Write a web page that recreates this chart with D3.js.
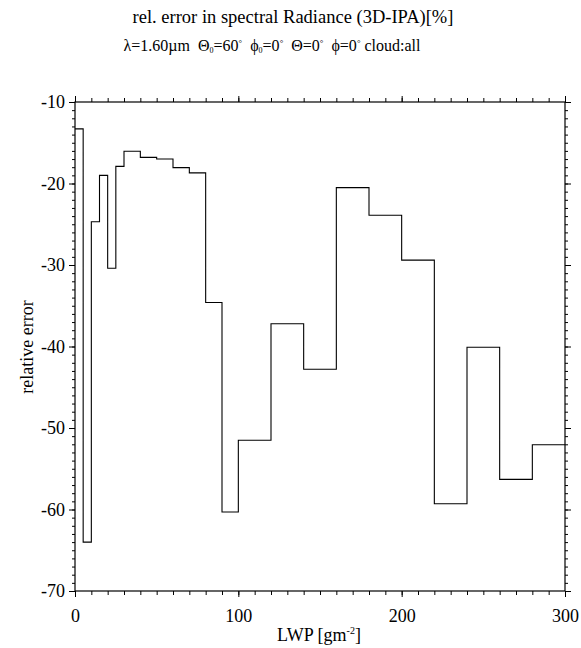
<!DOCTYPE html>
<html lang="en">
<head>
  <meta charset="UTF-8">
  <title>rel. error in spectral Radiance</title>
  <script src="https://d3js.org/d3.v7.min.js"></script>
  <style>
    body {
      margin: 0;
      background: #fff;
      font-family: 'Liberation Serif', 'DejaVu Serif', serif;
    }
    svg text { fill: #000; font-family: 'Liberation Serif', serif; }
    .axis path, .axis line { stroke: #000; stroke-width: 1px; }
    .step { fill: none; stroke: #000; stroke-width: 1.1px; }
  </style>
</head>
<body>
  <svg width="581" height="648"></svg>
  <script>
    // bin edges (LWP, g/m^2) and relative error per bin [%]
    const binEdges = [0, 5, 10, 15, 20, 25, 30, 40, 50, 60, 70, 80, 90, 100, 120, 140, 160, 180, 200, 220, 240, 260, 280, 300];
    const relError = [-13.3, -64.0, -24.7, -19.0, -30.4, -17.9, -16.05, -16.8, -17.0, -18.05, -18.7, -34.6, -60.3, -51.5, -37.2, -42.8, -20.5, -23.9, -29.4, -59.3, -40.1, -56.3, -52.05];
    const xTicks = [0, 100, 200, 300];
    const yTicks = [-10, -20, -30, -40, -50, -60, -70];

    const svg = d3.select("svg");
    const mLeft = 75, mRight = 565, mTop = 102, mBottom = 591;

    const x = d3.scaleLinear().domain([0, 300]).range([mLeft, mRight]);
    const y = d3.scaleLinear().domain([-70, -10]).range([mBottom, mTop]);

    const minorX = d3.range(0, 301, 10);
    const minorY = d3.range(-70, -9, 1);

    // frame
    svg.append("rect")
      .attr("x", mLeft).attr("y", mTop)
      .attr("width", mRight - mLeft).attr("height", mBottom - mTop)
      .attr("fill", "none").attr("stroke", "#000").attr("stroke-width", 1.2);

    function tickAxis(axisFn, scale, tr, vals, size) {
      return svg.append("g")
        .attr("class", "axis")
        .attr("transform", tr)
        .call(axisFn(scale).tickValues(vals).tickSize(size).tickFormat(""))
        .call(g => g.select(".domain").remove());
    }

    // minor ticks on all sides
    tickAxis(d3.axisBottom, x, `translate(0,${mBottom})`, minorX, 4);
    tickAxis(d3.axisTop, x, `translate(0,${mTop})`, minorX, 4);
    tickAxis(d3.axisLeft, y, `translate(${mLeft},0)`, minorY, 3);
    tickAxis(d3.axisRight, y, `translate(${mRight},0)`, minorY, 3);
    // major ticks
    tickAxis(d3.axisTop, x, `translate(0,${mTop})`, xTicks, 6);
    tickAxis(d3.axisRight, y, `translate(${mRight},0)`, yTicks, 6);

    function labelStyle(g) {
      g.select(".domain").remove();
      g.attr("font-family", "Liberation Serif").attr("font-size", 18);
      g.selectAll("text").style("font-family", "'Liberation Serif', serif").style("font-size", "18px");
    }

    svg.append("g")
      .attr("class", "axis")
      .attr("transform", `translate(0,${mBottom})`)
      .call(d3.axisBottom(x).tickValues(xTicks).tickSize(6).tickPadding(12))
      .call(labelStyle);

    svg.append("g")
      .attr("class", "axis")
      .attr("transform", `translate(${mLeft},0)`)
      .call(d3.axisLeft(y).tickValues(yTicks).tickSize(6).tickPadding(4).tickFormat(d => d))
      .call(labelStyle);

    // step line
    const pts = [];
    relError.forEach((v, i) => {
      pts.push([binEdges[i], v]);
      pts.push([binEdges[i + 1], v]);
    });
    svg.append("path")
      .attr("class", "step")
      .attr("d", d3.line().x(d => x(d[0])).y(d => y(d[1]))(pts));

    // titles
    svg.append("text")
      .attr("x", 293).attr("y", 23)
      .attr("text-anchor", "middle")
      .style("font-size", "18.5px")
      .text("rel. error in spectral Radiance (3D-IPA)[%]");

    const sub = svg.append("text")
      .attr("x", 272).attr("y", 51)
      .attr("text-anchor", "middle")
      .attr("xml:space", "preserve")
      .style("white-space", "pre")
      .style("font-size", "16px");
    const parts = [
      ["λ=1.60µm  Θ", 0], ["0", 1], ["=60", 0], ["°", 2], ["  ϕ", 0], ["0", 1], ["=0", 0], ["°", 2],
      ["  Θ=0", 0], ["°", 2], ["  ϕ=0", 0], ["°", 2], [" cloud:all", 0]
    ];
    parts.forEach(([t, k], i) => {
      const prev = i > 0 ? parts[i - 1][1] : 0;
      let dy = 0;
      if (prev === 1) dy -= 2;
      if (prev === 2) dy += 5;
      if (k === 1) dy += 2;
      if (k === 2) dy -= 5;
      const ts = sub.append("tspan").text(t).attr("dy", dy);
      if (k === 1) ts.style("font-size", "8px");
      else if (k === 2) ts.style("font-size", "9px");
    });

    // axis titles
    const xl = svg.append("text")
      .attr("x", 319).attr("y", 641)
      .attr("text-anchor", "middle")
      .style("font-size", "18px");
    xl.append("tspan").text("LWP [gm");
    xl.append("tspan").text("-2").style("font-size", "10px").attr("dy", -7);
    xl.append("tspan").text("]").attr("dy", 7);

    svg.append("text")
      .attr("transform", `translate(33,347) rotate(-90)`)
      .attr("text-anchor", "middle")
      .style("font-size", "18px")
      .text("relative error");
  </script>
</body>
</html>
